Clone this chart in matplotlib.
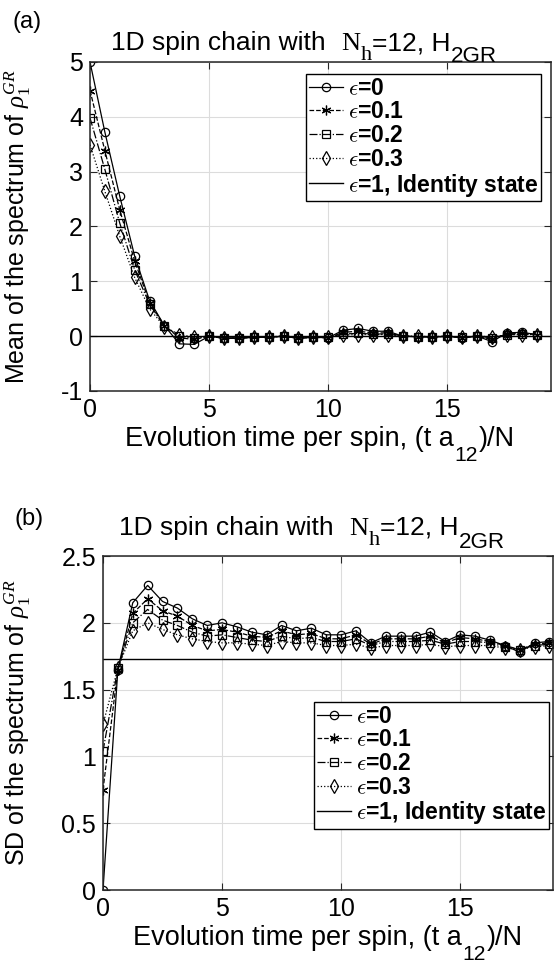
import numpy as np
import matplotlib
matplotlib.use("Agg")
import matplotlib.pyplot as plt
from matplotlib.ticker import FormatStrFormatter

plt.rcParams['font.family'] = ['Liberation Sans', 'DejaVu Sans']
plt.rcParams['mathtext.fontset'] = 'custom'
plt.rcParams['mathtext.rm'] = 'Liberation Serif'
plt.rcParams['mathtext.it'] = 'Liberation Serif:italic'
plt.rcParams['mathtext.sf'] = 'Liberation Sans'
plt.rcParams['mathtext.bf'] = 'Liberation Sans:bold'
plt.rcParams['axes.unicode_minus'] = False

# evolution time per spin, 31 samples
t = np.arange(31) * 0.625

# (a) mean of spectrum
mean_e0 = [5.0, 3.72, 2.55, 1.46, 0.65, 0.19, -0.14, -0.15, 0.0, -0.04, -0.04, -0.02, -0.02, 0.0, -0.04, -0.02,
           -0.03, 0.11, 0.14, 0.09, 0.09, 0.0, -0.01, -0.02, 0.0, -0.03, 0.0, -0.1, 0.06, 0.07, 0.03]
mean_e01 = [4.48, 3.38, 2.30, 1.37, 0.61, 0.19, -0.03, -0.06, 0.0, -0.04, -0.04, -0.02, -0.02, 0.0, -0.04, -0.02,
            -0.03, 0.07, 0.09, 0.06, 0.06, 0.0, -0.01, -0.02, 0.0, -0.03, 0.0, -0.06, 0.04, 0.05, 0.03]
mean_e02 = [3.98, 3.04, 2.06, 1.21, 0.58, 0.18, 0.0, -0.04, 0.0, -0.03, -0.03, -0.02, -0.02, 0.0, -0.03, -0.02,
            -0.02, 0.04, 0.05, 0.04, 0.04, 0.0, -0.01, -0.01, 0.0, -0.02, 0.0, -0.03, 0.03, 0.04, 0.03]
mean_e03 = [3.49, 2.64, 1.82, 1.07, 0.50, 0.17, 0.03, -0.02, 0.0, -0.03, -0.03, -0.01, -0.01, 0.0, -0.03, -0.01,
            -0.02, 0.02, 0.03, 0.03, 0.03, 0.0, 0.0, -0.01, 0.0, -0.02, 0.0, -0.01, 0.02, 0.03, 0.03]
mean_identity = 0.0

# (b) standard deviation of spectrum
sd_e0 = [0.0, 1.65, 2.15, 2.28, 2.16, 2.11, 2.03, 1.98, 2.00, 1.97, 1.93, 1.91, 1.98, 1.94, 1.96, 1.91,
         1.91, 1.94, 1.85, 1.90, 1.90, 1.90, 1.93, 1.86, 1.91, 1.90, 1.87, 1.83, 1.78, 1.85, 1.86]
sd_e01 = [0.75, 1.65, 2.07, 2.18, 2.09, 2.05, 1.98, 1.94, 1.95, 1.93, 1.90, 1.89, 1.94, 1.91, 1.92, 1.88,
          1.88, 1.91, 1.84, 1.88, 1.88, 1.88, 1.90, 1.85, 1.89, 1.88, 1.86, 1.83, 1.80, 1.84, 1.85]
sd_e02 = [1.04, 1.66, 2.00, 2.10, 2.02, 1.98, 1.93, 1.90, 1.91, 1.89, 1.87, 1.86, 1.90, 1.88, 1.89, 1.86,
          1.86, 1.88, 1.83, 1.86, 1.86, 1.86, 1.87, 1.84, 1.86, 1.86, 1.85, 1.82, 1.80, 1.83, 1.84]
sd_e03 = [1.24, 1.66, 1.94, 2.00, 1.95, 1.91, 1.88, 1.86, 1.85, 1.85, 1.84, 1.83, 1.86, 1.85, 1.85, 1.83,
          1.83, 1.84, 1.81, 1.83, 1.83, 1.83, 1.84, 1.82, 1.83, 1.83, 1.83, 1.81, 1.80, 1.82, 1.83]
sd_identity = 1.732

labels = [r'$\epsilon$=0', r'$\epsilon$=0.1', r'$\epsilon$=0.2', r'$\epsilon$=0.3',
          r'$\epsilon$=1, Identity state']
styles = [('-', 'o', 6), ('--', (6, 2, 0), 7), ('-.', 's', 5.5), (':', 'd', 7)]

SANS = 'Liberation Sans'
SERIF = 'Liberation Serif'
title_parts = [('1D spin chain with  ', SANS, 1.0, 0), ('N', SERIF, 1.0, 0), ('h', SERIF, 0.85, -7),
               ('=12, H', SANS, 1.0, 0), ('2GR', SANS, 0.85, -9)]
xlab_parts = [('Evolution time per spin, (t a', SANS, 1.0, 0), ('12', SANS, 0.78, -9), (')/N', SANS, 1.0, 0)]


def pieced_text(fig, xc, y_px, parts, size):
    # draw text pieces one after another, subscripts dropped, then centre the whole line on xc (pixels)
    first = fig.text(0, 1 - y_px / 969, parts[0][0], family=parts[0][1], fontsize=size * parts[0][2],
                     va='baseline')
    arts = [first]
    base = first
    prev = first
    for s, fam, f, dy in parts[1:]:
        a = plt.annotate(s, xy=(1, 0), xycoords=(prev, base), xytext=(0.3, dy), textcoords='offset points',
                         family=fam, fontsize=size * f, va='bottom', annotation_clip=False)
        arts.append(a)
        prev = a
        if dy == 0:
            base = a
    fig.canvas.draw()
    r = fig.canvas.get_renderer()
    x0 = arts[0].get_window_extent(r).x0
    x1 = max(a.get_window_extent(r).x1 for a in arts)
    first.set_x((xc - (x1 - x0) / 2) / 555)
    return arts


def panel(ax, series, ident, ylabel, ylim, yticks, xmax, anchor, ylab_x):
    for y, (ls, mk, ms), lab in zip(series, styles, labels):
        ax.plot(t, y, ls=ls, marker=mk, color='black', lw=0.9, ms=ms,
                mfc='none', mew=0.9, label=lab)
    ax.axhline(ident, color='black', lw=1.0, label=labels[4])
    ax.set_xlim(0, xmax)
    ax.set_ylim(*ylim)
    ax.set_yticks(yticks)
    ax.set_xticks([0, 5, 10, 15])
    ax.yaxis.set_major_formatter(FormatStrFormatter('%g'))
    ax.grid(True, color='#dcdcdc', lw=0.8)
    ax.set_axisbelow(True)
    ax.tick_params(direction='in', top=True, right=True, labelsize=18, length=5, color='#262626', pad=5)
    for s in ax.spines.values():
        s.set_color('#262626')
        s.set_linewidth(1.1)
    ax.set_ylabel(ylabel, fontsize=18)
    ax.yaxis.set_label_coords(ylab_x, 0.5)
    leg = ax.legend(loc='upper right', bbox_to_anchor=anchor, prop={'weight': 'bold', 'size': 16.5},
                    fancybox=False, edgecolor='black', framealpha=1, handlelength=1.5, handletextpad=0.2,
                    labelspacing=0.03, borderpad=0.12, borderaxespad=0.0)
    leg.get_frame().set_linewidth(1.0)
    for txt in leg.get_texts():
        txt.set_math_fontfamily('cm')


fig = plt.figure(figsize=(5.55, 9.69), dpi=100)
ax1 = fig.add_axes([90 / 555, 1 - 391 / 969, 461 / 555, 329 / 969])
ax2 = fig.add_axes([103 / 555, 1 - 890 / 969, 450 / 555, 334 / 969])

panel(ax1, [mean_e0, mean_e01, mean_e02, mean_e03], mean_identity,
      r'Mean of the spectrum of $\rho_1^{GR}$', (-1, 5), range(-1, 6), 19.35, (0.978, 0.9635), -0.124)
panel(ax2, [sd_e0, sd_e01, sd_e02, sd_e03], sd_identity,
      r'SD of the spectrum of $\rho_1^{GR}$', (0, 2.5), [0, 0.5, 1, 1.5, 2, 2.5], 18.9, (0.991, 0.563), -0.156)

pieced_text(fig, 304, 50, title_parts, 19)
pieced_text(fig, 312, 535, title_parts, 19)
pieced_text(fig, 320, 446, xlab_parts, 19.5)
pieced_text(fig, 328, 945, xlab_parts, 19.5)
fig.text(12 / 555, 1 - 28 / 969, '(a)', fontsize=17)
fig.text(14 / 555, 1 - 525 / 969, '(b)', fontsize=17)

fig.savefig('out.png', dpi=100)
